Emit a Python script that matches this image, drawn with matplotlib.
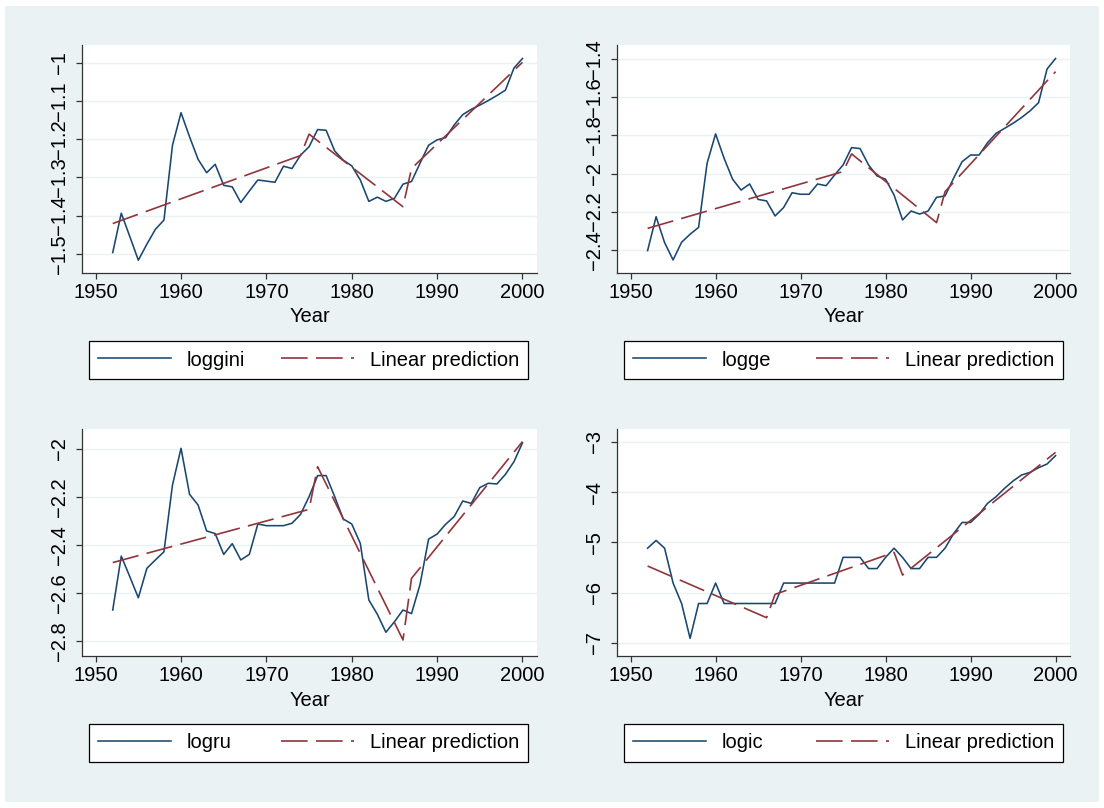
import matplotlib
matplotlib.use('Agg')
import matplotlib.pyplot as plt
import numpy as np
from matplotlib.patches import Rectangle
from matplotlib.lines import Line2D
from matplotlib.ticker import FuncFormatter

plt.rcParams['font.family'] = ['Liberation Sans', 'DejaVu Sans']

# ---- data ----
years = np.arange(1952, 2001)

loggini = [-1.497, -1.394, -1.455, -1.517, -1.475, -1.436, -1.412, -1.216, -1.131, -1.194,
           -1.253, -1.288, -1.266, -1.321, -1.325, -1.366, -1.336, -1.307, -1.310, -1.313,
           -1.271, -1.277, -1.242, -1.220, -1.175, -1.177, -1.231, -1.255, -1.270, -1.307,
           -1.363, -1.352, -1.363, -1.355, -1.318, -1.311, -1.263, -1.216, -1.202, -1.196,
           -1.163, -1.136, -1.122, -1.111, -1.099, -1.086, -1.072, -1.014, -0.989]
logge = [-2.405, -2.227, -2.363, -2.454, -2.361, -2.319, -2.283, -1.946, -1.792, -1.920,
         -2.030, -2.087, -2.055, -2.136, -2.144, -2.223, -2.179, -2.101, -2.109, -2.109,
         -2.055, -2.064, -2.008, -1.955, -1.864, -1.869, -1.955, -2.013, -2.030, -2.113,
         -2.244, -2.197, -2.213, -2.197, -2.125, -2.118, -2.025, -1.938, -1.903, -1.903,
         -1.838, -1.789, -1.763, -1.736, -1.706, -1.671, -1.628, -1.451, -1.396]
logru = [-2.672, -2.447, -2.533, -2.621, -2.498, -2.463, -2.429, -2.150, -1.997, -2.189,
         -2.234, -2.342, -2.353, -2.440, -2.395, -2.463, -2.440, -2.313, -2.320, -2.320,
         -2.320, -2.310, -2.273, -2.199, -2.111, -2.111, -2.199, -2.292, -2.313, -2.394,
         -2.630, -2.690, -2.765, -2.721, -2.672, -2.687, -2.565, -2.376, -2.355, -2.314,
         -2.282, -2.217, -2.227, -2.161, -2.143, -2.146, -2.106, -2.053, -1.974]
logic = [-5.116, -4.962, -5.116, -5.809, -6.215, -6.908, -6.215, -6.215, -5.809, -6.215,
         -6.215, -6.215, -6.215, -6.215, -6.215, -6.215, -5.809, -5.809, -5.809, -5.809,
         -5.809, -5.809, -5.809, -5.298, -5.298, -5.298, -5.521, -5.521, -5.298, -5.116,
         -5.300, -5.521, -5.521, -5.298, -5.298, -5.116, -4.828, -4.605, -4.605, -4.444,
         -4.225, -4.093, -3.927, -3.781, -3.662, -3.609, -3.517, -3.444, -3.278]

# linear prediction (piecewise fit), vertices
pred_years_gini = [1952, 1974, 1975, 1986, 1987, 2000]
pred_gini = [-1.421, -1.243, -1.187, -1.377, -1.277, -0.999]
pred_years_ge = [1952, 1975, 1976, 1986, 1987, 2000]
pred_ge = [-2.288, -1.990, -1.897, -2.258, -2.095, -1.465]
pred_years_ru = [1952, 1975, 1976, 1986, 1987, 2000]
pred_ru = [-2.474, -2.252, -2.074, -2.797, -2.540, -1.969]
pred_years_ic = [1952, 1966, 1967, 1981, 1982, 2000]
pred_ic = [-5.470, -6.497, -6.033, -5.199, -5.649, -3.212]

yticks_gini = [-1.5, -1.4, -1.3, -1.2, -1.1, -1.0]
yticks_ge = [-2.4, -2.2, -2.0, -1.8, -1.6, -1.4]
yticks_ru = [-2.8, -2.6, -2.4, -2.2, -2.0]
yticks_ic = [-7, -6, -5, -4, -3]
xticks = [1950, 1960, 1970, 1980, 1990, 2000]

# ---- style ----
BG = '#eaf2f3'
BLUE = '#1a476f'
RED = '#90353b'
FS = 14.5
W, H = 1104, 808

fig = plt.figure(figsize=(W / 100, H / 100), dpi=100, facecolor='white')
fig.patches.append(Rectangle((5 / W, 6 / H), (W - 10) / W, (H - 12) / H,
                             transform=fig.transFigure, facecolor=BG,
                             edgecolor='none', zorder=-5))

fmt = FuncFormatter(lambda v, p: ('%g' % v).replace('-', '\u2212'))

panels = [
    # (x0, x1, y0, y1) pixel box, series, label, pred x, pred y, ticks, ylim
    ((82, 537, 45, 272.7), loggini, 'loggini', pred_years_gini, pred_gini, yticks_gini, (-1.5497, -0.9537)),
    ((617, 1070, 45, 272.7), logge, 'logge', pred_years_ge, pred_ge, yticks_ge, (-2.521, -1.325)),
    ((82, 537, 429, 656), logru, 'logru', pred_years_ru, pred_ru, yticks_ru, (-2.864, -1.9165)),
    ((617, 1070, 429, 656), logic, 'logic', pred_years_ic, pred_ic, yticks_ic, (-7.258, -2.748)),
]

for (x0, x1, y0, y1), series, name, px, py, yt, ylim in panels:
    ax = fig.add_axes([x0 / W, 1 - y1 / H, (x1 - x0) / W, (y1 - y0) / H])
    ax.set_facecolor('white')
    ax.plot(years, series, color=BLUE, lw=1.15, zorder=3)
    ax.plot(px, py, color=RED, lw=1.2, ls=(0, (16, 5)), zorder=3)

    ax.set_xlim(1948.4, 2001.7)
    ax.set_ylim(*ylim)
    ax.set_xticks(xticks)
    ax.set_yticks(yt)
    ax.yaxis.set_major_formatter(fmt)
    ax.grid(axis='y', color=BG, lw=1.0, zorder=1)
    ax.set_axisbelow(True)

    for s in ['top', 'right']:
        ax.spines[s].set_visible(False)
    for s in ['left', 'bottom']:
        ax.spines[s].set_linewidth(0.9)
        ax.spines[s].set_color('#333333')
    ax.tick_params(axis='both', direction='out', length=4.5, width=0.9,
                   color='#333333', labelsize=FS, labelcolor='black')
    ax.tick_params(axis='x', pad=2.7)
    ax.tick_params(axis='y', pad=5)
    for lab in ax.get_yticklabels():
        lab.set_rotation(90)
        lab.set_va('center')
    ax.set_xlabel('Year', fontsize=FS, labelpad=4)

    handles = [Line2D([], [], color=BLUE, lw=1.15),
               Line2D([], [], color=RED, lw=1.2, ls=(0, (16, 5)))]
    ly0 = 341 if y0 < 400 else 724
    leg = ax.legend(handles, [name, 'Linear prediction'], ncol=2, mode='expand',
                    loc='center', bbox_to_anchor=((x0 + 7) / W, 1 - (ly0 + 38) / H, 439 / W, 38 / H),
                    bbox_transform=fig.transFigure, borderaxespad=0, fancybox=False,
                    edgecolor='black', framealpha=1, fontsize=FS, handlelength=3.6,
                    handletextpad=0.8, borderpad=0.45)
    leg.get_frame().set_linewidth(0.9)

fig.savefig('out.png', dpi=100, facecolor='white')
